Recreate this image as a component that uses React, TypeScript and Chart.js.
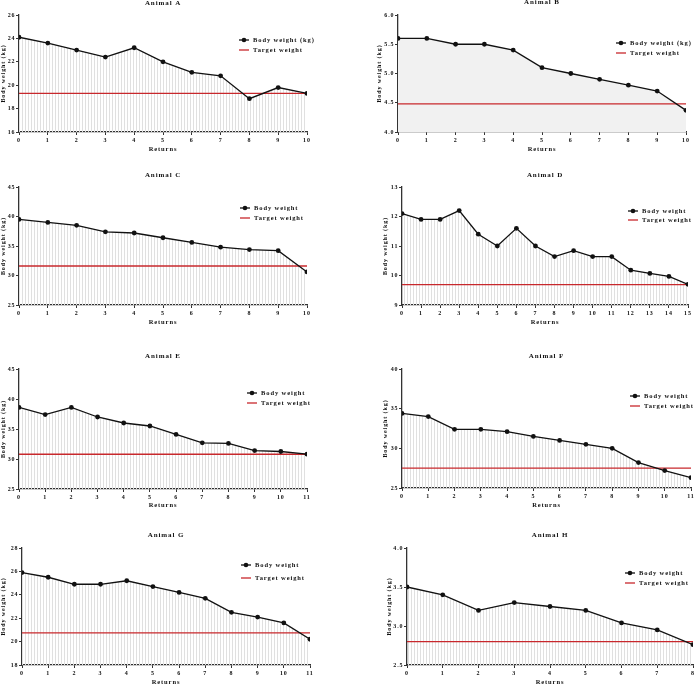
import React, { useEffect, useRef } from "react";
import { Chart, registerables } from "chart.js";
Chart.register(...registerables);

// ---------- data ----------
const titles = ["Animal A", "Animal B", "Animal C", "Animal D", "Animal E", "Animal F", "Animal G", "Animal H"];
const legendLabels = ["Body weight (kg)", "Body weight (kg)", "Body weight", "Body weight", "Body weight", "Body weight", "Body weight", "Body weight"];

const weightA = [24.1, 23.6, 23.0, 22.4, 23.2, 22.0, 21.1, 20.8, 18.85, 19.8, 19.3];
const weightB = [5.6, 5.6, 5.5, 5.5, 5.4, 5.1, 5.0, 4.9, 4.8, 4.7, 4.37];
const weightC = [39.5, 39.0, 38.5, 37.4, 37.2, 36.4, 35.6, 34.8, 34.4, 34.2, 30.6];
const weightD = [12.1, 11.9, 11.9, 12.2, 11.4, 11.0, 11.6, 11.0, 10.64, 10.84, 10.64, 10.64, 10.18, 10.07, 9.97, 9.7];
const weightE = [38.6, 37.4, 38.6, 37.0, 36.0, 35.5, 34.1, 32.7, 32.6, 31.4, 31.25, 30.8];
const weightF = [34.4, 34.0, 32.4, 32.4, 32.1, 31.5, 31.0, 30.5, 30.0, 28.2, 27.2, 26.3];
const weightG = [25.9, 25.5, 24.9, 24.9, 25.2, 24.7, 24.2, 23.7, 22.5, 22.1, 21.6, 20.2];
const weightH = [3.5, 3.4, 3.2, 3.3, 3.25, 3.2, 3.04, 2.95, 2.76];
const weights = [weightA, weightB, weightC, weightD, weightE, weightF, weightG, weightH];

const targets = [19.3, 4.48, 31.6, 9.69, 30.8, 27.5, 20.75, 2.8];

const yMins = [16, 4.0, 25, 9, 25, 25, 18, 2.5];
const yMaxs = [26, 6.0, 45, 13, 45, 40, 28, 4.0];
const ySteps = [2, 0.5, 5, 1, 5, 5, 2, 0.5];
const yDecimals = [0, 1, 0, 0, 0, 0, 0, 1];

const yAxisTitle = "Body weight (kg)";
const xAxisTitle = "Returns";
const legendTarget = "Target weight";

// ---------- layout (positions / styles) ----------
type Geo = { l: number; t: number; r: number; b: number; cl: number; xH: number; tg: number; ldx: number; r1: number; r2: number; solid?: boolean };
const geos: Geo[] = [
  { l: 19, t: 15, r: 307, b: 132, cl: 0, xH: 21, tg: 12, ldx: 68, r1: 25, r2: 35 },
  { l: 398, t: 15, r: 686, b: 132, cl: 376, xH: 21, tg: 13, ldx: 70, r1: 28, r2: 38, solid: true },
  { l: 19, t: 187, r: 307, b: 305, cl: 0, xH: 21, tg: 12, ldx: 67, r1: 21, r2: 31 },
  { l: 402, t: 187, r: 688, b: 305, cl: 382, xH: 21, tg: 12, ldx: 60, r1: 24, r2: 33 },
  { l: 19, t: 369, r: 307, b: 489, cl: 0, xH: 20, tg: 13, ldx: 60, r1: 24, r2: 34 },
  { l: 402, t: 369, r: 691, b: 488, cl: 382, xH: 21, tg: 13, ldx: 61, r1: 27, r2: 37 },
  { l: 22, t: 548, r: 310, b: 665, cl: 0, xH: 21, tg: 13, ldx: 69, r1: 17, r2: 30 },
  { l: 407, t: 548, r: 695, b: 665, cl: 386, xH: 21, tg: 13, ldx: 68, r1: 25, r2: 35 },
];

const FONT = '"Liberation Serif", "Times New Roman", serif';
const RED = "#c8282c";
const INK = "#111111";
const AXIS = "#333333";
const SPACING = "0.9px";

function makeHatch(): CanvasPattern | string {
  const pc = document.createElement("canvas");
  pc.width = 3;
  pc.height = 8;
  const c = pc.getContext("2d");
  if (!c) return "#f0f0f0";
  c.clearRect(0, 0, 3, 8);
  c.fillStyle = "#e0e0e0";
  c.fillRect(1, 0, 1, 8);
  const p = c.createPattern(pc, "repeat");
  return p || "#f0f0f0";
}

const decorPlugin = {
  id: "decor",
  beforeDraw(chart: any) {
    chart.ctx.letterSpacing = SPACING;
  },
  afterDraw(chart: any, _args: any, o: any) {
    const { ctx, chartArea: a } = chart;
    ctx.save();
    ctx.letterSpacing = SPACING;
    ctx.fillStyle = INK;
    ctx.font = `bold 7px ${FONT}`;
    ctx.textAlign = "center";
    ctx.textBaseline = "middle";
    ctx.fillText(o.title, (a.left + a.right) / 2, a.top - o.tg);

    const lx = a.right - o.ldx;
    const y1 = a.top + o.r1;
    const y2 = a.top + o.r2;
    ctx.strokeStyle = INK;
    ctx.lineWidth = 1.3;
    ctx.beginPath();
    ctx.moveTo(lx, y1);
    ctx.lineTo(lx + 10, y1);
    ctx.stroke();
    ctx.beginPath();
    ctx.arc(lx + 5, y1, 2.3, 0, Math.PI * 2);
    ctx.fill();
    ctx.strokeStyle = RED;
    ctx.lineWidth = 1.3;
    ctx.beginPath();
    ctx.moveTo(lx, y2);
    ctx.lineTo(lx + 10, y2);
    ctx.stroke();
    ctx.font = `bold 6.5px ${FONT}`;
    ctx.textAlign = "left";
    ctx.fillText(o.label, lx + 14, y1);
    ctx.fillText(legendTarget, lx + 14, y2);
    ctx.restore();
  },
};

function Panel({ idx }: { idx: number }) {
  const ref = useRef<HTMLCanvasElement>(null);
  const g = geos[idx];
  const padTop = 15;
  const padR = idx % 2 === 0 ? 20 : 697 - g.r;
  const cw = g.r - g.cl + padR;
  const ch = padTop + (g.b - g.t) + g.xH;
  const top = g.t - padTop;

  useEffect(() => {
    if (!ref.current) return;
    const w = weights[idx];
    const n = w.length;
    const tgt = targets[idx];
    const yW = g.l - g.cl;
    const xH = g.xH;
    const chart = new Chart(ref.current, {
      type: "line",
      data: {
        datasets: [
          {
            data: w.map((v, i) => ({ x: i, y: v })),
            borderColor: INK,
            borderWidth: 1.3,
            pointRadius: 2.4,
            pointBackgroundColor: INK,
            pointBorderColor: INK,
            pointBorderWidth: 0,
            fill: "start",
            backgroundColor: g.solid ? "#f1f1f1" : makeHatch(),
            tension: 0,
          },
          {
            data: [
              { x: 0, y: tgt },
              { x: n - 1, y: tgt },
            ],
            borderColor: RED,
            borderWidth: 1.4,
            pointRadius: 0,
            fill: false,
          },
        ],
      },
      options: {
        animation: false,
        responsive: false,
        devicePixelRatio: 1,
        layout: { padding: { top: padTop, left: 0, right: padR, bottom: 0 } },
        plugins: {
          legend: { display: false },
          tooltip: { enabled: false },
          title: { display: false },
          filler: { drawTime: "beforeDatasetsDraw" },
          decor: { title: titles[idx], label: legendLabels[idx], tg: g.tg, ldx: g.ldx, r1: g.r1, r2: g.r2 },
        } as any,
        scales: {
          x: {
            type: "linear",
            min: 0,
            max: n - 1,
            afterFit: (s: any) => {
              s.height = xH;
            },
            ticks: {
              stepSize: 1,
              autoSkip: false,
              maxRotation: 0,
              padding: 2,
              color: INK,
              font: { family: FONT, size: 6, weight: "bold" },
            },
            grid: { display: true, drawOnChartArea: false, drawTicks: true, tickLength: 3, color: AXIS, lineWidth: 1 },
            border: { display: true, color: AXIS, width: 1.3 },
            title: {
              display: true,
              text: xAxisTitle,
              color: INK,
              padding: 0,
              font: { family: FONT, size: 6.5, weight: "bold" },
            },
          },
          y: {
            type: "linear",
            min: yMins[idx],
            max: yMaxs[idx],
            afterFit: (s: any) => {
              s.width = yW;
            },
            ticks: {
              stepSize: ySteps[idx],
              padding: 0.5,
              color: INK,
              font: { family: FONT, size: 6, weight: "bold" },
              callback: (v: any) => Number(v).toFixed(yDecimals[idx]),
            },
            grid: { display: true, drawOnChartArea: false, drawTicks: true, tickLength: 3, color: AXIS, lineWidth: 1 },
            border: { display: true, color: AXIS, width: 1.3 },
            title: {
              display: true,
              text: yAxisTitle,
              color: INK,
              padding: 0,
              font: { family: FONT, size: 6, weight: "bold" },
            },
          },
        },
      },
      plugins: [decorPlugin as any],
    });
    return () => chart.destroy();
  }, [idx]);

  return (
    <canvas
      ref={ref}
      width={cw}
      height={ch}
      style={{ position: "absolute", left: g.cl, top, width: cw, height: ch }}
    />
  );
}

export default function App() {
  return (
    <div style={{ position: "fixed", left: 0, top: 0, width: 697, height: 684, overflow: "hidden", background: "#ffffff" }}>
      {titles.map((_, i) => (
        <Panel key={i} idx={i} />
      ))}
    </div>
  );
}
